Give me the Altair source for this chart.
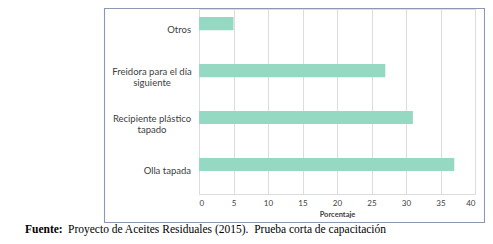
import altair as alt
import pandas as pd

categories = ["Otros", "Freidora para el día\nsiguiente", "Recipiente plástico\ntapado", "Olla tapada"]
values = [5, 27, 31, 37]
x_ticks = [0, 5, 10, 15, 20, 25, 30, 35, 40]

df = pd.DataFrame({"cat": categories, "val": values,
                   "multi": ["\n" in c for c in categories]})

W, H = 276, 185
FONT = "Lato"
ysc = alt.Scale(domain=categories, paddingInner=0.72, paddingOuter=0.33, align=0.26)

base = alt.Chart(df)

bars = base.mark_bar(color="#95D9C3").encode(
    x=alt.X("val:Q", scale=alt.Scale(domain=[0, 40], nice=False),
            axis=alt.Axis(values=x_ticks, title="Porcentaje", grid=True, gridColor="#DCDCDC",
                          domain=True, domainColor="#DCDCDC", ticks=False, labelFont=FONT,
                          labelFontSize=8, labelColor="#404040", labelPadding=5,
                          titleFont=FONT, titleFontSize=7.5, titleFontWeight="bold",
                          titleColor="#404040", titlePadding=3)),
    y=alt.Y("cat:N", scale=ysc, sort=categories, axis=None),
)

single_lbl = base.transform_filter("!datum.multi").mark_text(
    align="right", baseline="middle", font=FONT, fontSize=9.5, color="#404040", dy=6.5
).encode(y=alt.Y("cat:N", scale=ysc, sort=categories, axis=None), x=alt.value(-8), text="cat:N")

multi_lbl = base.transform_filter("datum.multi").mark_text(
    align="center", baseline="middle", font=FONT, fontSize=9.5, color="#404040",
    lineBreak="\n", lineHeight=11.5, dy=1
).encode(y=alt.Y("cat:N", scale=ysc, sort=categories, axis=None), x=alt.value(-47), text="cat:N")

frame = alt.Chart(pd.DataFrame({"a": [0]})).mark_rect(
    fill=None, stroke="#8C97B3", strokeWidth=1.1
).encode(x=alt.value(-94.5), x2=alt.value(285.5), y=alt.value(-0.5), y2=alt.value(213.5))

NB = "\u00a0"
src_bold = alt.Chart(pd.DataFrame({"t": ["Fuente:"]})).mark_text(
    align="left", baseline="alphabetic", font="Liberation Serif", fontSize=11.5,
    fontWeight="bold", color="#000000"
).encode(x=alt.value(-174), y=alt.value(224), text="t:N")

src_rest = alt.Chart(pd.DataFrame({"t": ["Proyecto de Aceites Residuales (2015)." + NB + NB + "Prueba corta de capacitación"]})).mark_text(
    align="left", baseline="alphabetic", font="Liberation Serif", fontSize=11.5, color="#000000"
).encode(x=alt.value(-131), y=alt.value(224), text="t:N")

chart = alt.layer(frame, bars, single_lbl, multi_lbl, src_bold, src_rest).properties(
    width=W, height=H,
    autosize=alt.AutoSizeParams(type="none"),
    padding={"left": 191, "top": 1, "right": 10, "bottom": 42},
).configure_view(stroke=None).configure(background="white")

chart.save("out.html", embed_options={"renderer": "svg", "actions": False})
